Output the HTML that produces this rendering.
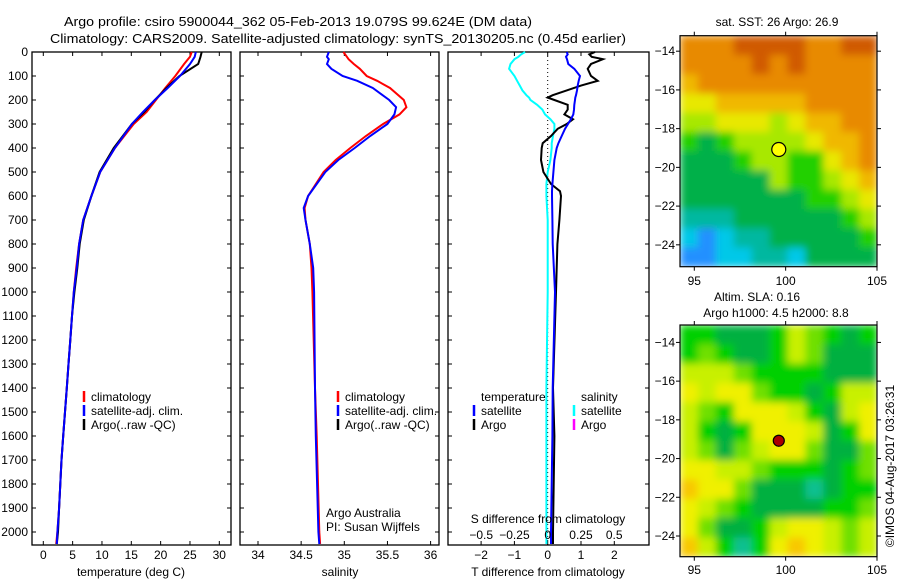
<!DOCTYPE html>
<html><head><meta charset="utf-8"><style>
html,body{margin:0;padding:0;background:#fff;}
svg{display:block;font-family:"Liberation Sans",sans-serif;}
</style></head><body>
<svg id="fig" width="900" height="580" viewBox="0 0 900 580">
<defs>
<filter id="blur" x="0" y="0" width="1" height="1"><feGaussianBlur stdDeviation="4" edgeMode="duplicate"/></filter>
<clipPath id="clipTop"><rect x="680" y="35.7" width="197" height="231"/></clipPath>
<clipPath id="clipBot"><rect x="680" y="325" width="197" height="231.7"/></clipPath>
</defs>
<text x="64" y="26" font-size="13" textLength="468" lengthAdjust="spacingAndGlyphs">Argo profile: csiro 5900044_362 05-Feb-2013 19.079S 99.624E (DM data)</text>
<text x="50" y="43" font-size="13" textLength="576" lengthAdjust="spacingAndGlyphs">Climatology: CARS2009. Satellite-adjusted climatology: synTS_20130205.nc (0.45d earlier)</text>
</svg>
<script>
// ---- data ----
const depthTicks=[0,100,200,300,400,500,600,700,800,900,1000,1100,1200,1300,1400,1500,1600,1700,1800,1900,2000];
const tDepth=[0,20,50,100,150,200,250,300,400,500,600,700,800,900,1000,1100,1200,1300,1400,1500,1600,1700,1800,1900,2000,2050];
const tClim=[25.3,25.0,24.0,22.5,20.8,19.2,17.6,15.4,12.2,9.7,8.2,6.8,6.1,5.6,5.2,4.9,4.6,4.3,4.0,3.7,3.4,3.1,2.9,2.7,2.4,2.2];
const tSat=[26.0,25.8,25.0,23.3,21.2,19.0,17.0,15.1,12.2,9.7,8.2,6.8,6.1,5.7,5.2,4.9,4.6,4.3,4.0,3.7,3.4,3.1,2.9,2.7,2.4,2.3];
const tArgo=[27.0,26.8,26.4,23.2,21.0,19.0,17.2,15.1,12.0,9.6,8.2,6.9,6.2,5.8,5.3,4.9,4.6,4.3,4.0,3.7,3.4,3.1,2.9,2.7,2.5,2.3];
const tTicks=[0,5,10,15,20,25,30];
const sDepth=[0,20,30,50,70,100,120,150,200,230,260,300,350,400,450,500,600,650,700,800,900,1000,1400,1600,2000,2050];
const sClim=[34.99,35.03,35.05,35.11,35.18,35.26,35.38,35.53,35.69,35.72,35.64,35.45,35.25,35.07,34.90,34.76,34.58,34.54,34.55,34.60,34.62,34.63,34.66,34.68,34.71,34.72];
const sSat=[34.82,34.80,34.82,34.80,34.85,34.98,35.15,35.33,35.52,35.60,35.58,35.50,35.30,35.12,34.93,34.78,34.58,34.53,34.55,34.60,34.64,34.65,34.66,34.67,34.70,34.71];
const sTicks=[34,34.5,35,35.5,36];
const dDepth=[0,10,20,30,50,70,100,120,140,160,180,190,200,220,240,260,280,300,320,350,380,400,450,500,550,580,600,700,800,1000,1400,1600,2000,2050];
const dTSat=[0.57,0.60,0.55,0.58,0.62,0.80,0.97,0.93,0.90,0.88,0.85,0.83,0.82,0.80,0.79,0.77,0.70,0.61,0.52,0.42,0.32,0.27,0.20,0.17,0.14,0.13,0.13,0.14,0.15,0.22,0.15,0.14,0.10,0.10];
const dTArgo=[1.42,1.25,1.32,1.66,1.30,1.20,1.30,1.50,1.00,0.57,0.15,0.00,0.20,0.60,0.60,0.50,0.76,0.57,0.30,0.10,-0.15,-0.18,-0.20,-0.13,0.10,0.37,0.40,0.35,0.29,0.25,0.16,0.20,0.16,0.16];
const dSSat=[-0.17,-0.20,-0.22,-0.25,-0.28,-0.29,-0.25,-0.23,-0.21,-0.19,-0.16,-0.14,-0.13,-0.08,-0.04,-0.02,0.02,0.05,0.05,0.04,0.03,0.03,0.02,0.00,-0.01,-0.01,-0.01,0.00,0.00,0.00,-0.01,-0.01,-0.01,-0.01];
const dTTicks=[-2,-1,0,1,2];
const dSTicks=[-0.5,-0.25,0,0.25,0.5];
const mapLonTicks=[95,100,105];
const mapLatTicks=[-14,-16,-18,-20,-22,-24];
const sstGrid=[
[8,8,8,9,9,9,9,8,8,9,9],
[8,8,8,8,9,8,9,8,8,8,8],
[7,8,8,8,8,8,8,8,8,8,8],
[6,6,7,7,7,7,7,8,8,8,8],
[5,5,6,6,6,5,6,7,7,8,8],
[4,3,4,5,5,5,5,6,7,7,8],
[3,3,3,4,5,5,4,4,6,7,8],
[3,3,3,3,3,5,4,4,5,6,7],
[3,3,3,3,3,3,3,4,4,5,6],
[2,2,2,3,3,3,3,3,3,4,5],
[1,0,1,2,2,3,3,3,3,3,4],
[0,0,1,1,2,2,1,3,3,3,3]];
const slaGrid=[
[2,2,1,1,1,2,4,3,2,1,2],
[2,3,2,1,1,2,4,3,1,1,1],
[4,4,4,3,2,2,2,2,1,1,1],
[5,4,5,5,3,2,2,1,2,4,4],
[4,3,2,5,5,5,4,2,1,4,5],
[4,2,1,2,5,5,5,4,1,2,5],
[4,3,1,3,4,5,5,3,1,1,3],
[5,5,4,4,3,2,2,2,1,2,3],
[6,5,5,3,1,1,1,0,1,2,2],
[5,4,3,2,1,1,1,1,2,2,3],
[5,3,1,1,2,4,5,5,4,3,4],
[6,4,2,0,2,5,6,5,4,3,4]];
const argoLon=99.624, argoLat=-19.079;

// ---- helpers ----
const NS="http://www.w3.org/2000/svg";
const fig=document.getElementById('fig');
function mk(tag,attrs,parent){const e=document.createElementNS(NS,tag);for(const k in attrs)e.setAttribute(k,attrs[k]);(parent||fig).appendChild(e);return e;}
function txt(x,y,s,anchor,size,parent){const t=mk('text',{x:x,y:y,'font-size':size||12,'text-anchor':anchor||'start'},parent);t.textContent=s;return t;}
const yD=d=>52+d*0.24;
const PB=545;

function panel(x0,x1,name){
  const r=mk('rect',{x:x0,y:52,width:x1-x0,height:PB-52,fill:'none',stroke:'#000','stroke-width':1.3});
  
  
  depthTicks.forEach(d=>{
    mk('line',{x1:x0,x2:x0+4,y1:yD(d),y2:yD(d),stroke:'#000'});
    mk('line',{x1:x1-4,x2:x1,y1:yD(d),y2:yD(d),stroke:'#000'});
  });
}
function series(xs,ds,xf,color,name){
  const pts=xs.map((v,i)=>xf(v).toFixed(1)+','+yD(ds[i]).toFixed(1)).join(' ');
  const p=mk('polyline',{points:pts,fill:'none',stroke:color,'stroke-width':2});
  
  
}
function xticks(x0,x1,ticks,xf,fmt,labelY){
  ticks.forEach(t=>{
    const x=xf(t);
    mk('line',{x1:x,x2:x,y1:52,y2:56,stroke:'#000'});
    mk('line',{x1:x,x2:x,y1:PB-4,y2:PB,stroke:'#000'});
    const l=txt(x,labelY,fmt(t),'middle',12);
    
    
  });
}

// ---- panel 1: temperature ----
const xT=v=>43.3+v*5.867;
panel(32,231,'temperature-panel');
depthTicks.forEach(d=>{const l=txt(28,yD(d)+4,String(d),'end',12);
  
  });
xticks(32,231,tTicks,xT,String,559);
series(tClim,tDepth,xT,'#ff0000','temp-climatology-line');
series(tArgo,tDepth,xT,'#000000','temp-argo-line');
series(tSat,tDepth,xT,'#0000ff','temp-satellite-line');
let t1=txt(131,576,'temperature (deg C)','middle',12);



function legend(x,y,items,name){
  const g=mk('g',{});
  
  
  items.forEach((it,i)=>{
    mk('line',{x1:x,x2:x,y1:y+i*14-6,y2:y+i*14+5,stroke:it[0],'stroke-width':2.5},g);
    txt(x+7,y+i*14+4,it[1],'start',12,g);
  });
}
legend(84,397,[['#ff0000','climatology'],['#0000ff','satellite-adj. clim.'],['#000','Argo(..raw -QC)']],'temperature-legend');

// ---- panel 2: salinity ----
const xS=v=>258+(v-34)*86.3;
panel(240,439,'salinity-panel');
xticks(240,439,sTicks,xS,String,559);
series(sClim,sDepth,xS,'#ff0000','sal-climatology-line');
series(sSat,sDepth,xS,'#0000ff','sal-satellite-line');
let t2=txt(340,576,'salinity','middle',12);


legend(338,397,[['#ff0000','climatology'],['#0000ff','satellite-adj. clim.'],['#000','Argo(..raw -QC)']],'salinity-legend');
let a1=txt(326,517,'Argo Australia','start',12);


let a2=txt(326,531,'PI: Susan Wijffels','start',12);



// ---- panel 3: differences ----
const xDT=v=>547.7+v*33.3;
const xDS=v=>547.7+v*133;
panel(448,649,'difference-panel');
xticks(448,649,dTTicks,xDT,v=>v<0?'\u2212'+(-v):String(v),559);
mk('line',{x1:xDT(0),x2:xDT(0),y1:52,y2:PB,stroke:'#000','stroke-dasharray':'1,3'});
series(dSSat,dDepth,xDS,'#00ffff','sal-diff-satellite-line');
series(dTArgo,dDepth,xDT,'#000000','temp-diff-argo-line');
series(dTSat,dDepth,xDT,'#0000ff','temp-diff-satellite-line');
dSTicks.forEach(v=>{const l=txt(xDS(v),539,v<0?'\u2212'+(-v):String(v),'middle',12);
  
  });
let t3=txt(548,523,'S difference from climatology','middle',12);


let t4=txt(548,576,'T difference from climatology','middle',12);


txt(481,401,'temperature','start',12);
txt(581,401,'salinity','start',12);
legend(474,411,[['#0000ff','satellite'],['#000','Argo']],'temp-diff-legend');
legend(574,411,[['#00ffff','satellite'],['#ff00ff','Argo']],'sal-diff-legend');

// ---- maps ----
const sstColors=['#2090ff','#00c8e8','#00b8a0','#00b048','#20d000','#a8e800','#e8e800','#f0b800','#e88a00','#d05a00'];
const slaColors=['#10c090','#00b040','#00d000','#70e000','#c8f000','#f0f000','#f8c800','#f0a000'];
function map(grid,colors,top,bot,latTop,latBot,name,markerFill,xLabY,clipId){
  const x0=680,x1=877;
  const xL=v=>694.3+(v-95)*18.27;
  const yL=v=>top+(latTop-v)*(bot-top)/(latTop-latBot);
  const g=mk('g',{});
  
  
  const clipG=mk('g',{'clip-path':'url(#'+clipId+')'},g);
  const cells=mk('g',{filter:'url(#blur)'},clipG);
  const rows=grid.length, cols=grid[0].length;
  const cw=(x1-x0)/cols, ch=(bot-top)/rows;
  grid.forEach((row,i)=>row.forEach((v,j)=>{
    const c=mk('rect',{x:(x0+j*cw).toFixed(2),y:(top+i*ch).toFixed(2),width:(cw+0.6).toFixed(2),height:(ch+0.6).toFixed(2),fill:colors[v]},cells);
    
    
  }));
  mk('rect',{x:x0,y:top,width:x1-x0,height:bot-top,fill:'none',stroke:'#000','stroke-width':1.2},g);
  mapLonTicks.forEach(v=>{const x=xL(v);
    mk('line',{x1:x,x2:x,y1:top-4,y2:top,stroke:'#000'},g);
    mk('line',{x1:x,x2:x,y1:bot,y2:bot+4,stroke:'#000'},g);
    txt(x,xLabY,String(v),'middle',12,g);});
  mapLatTicks.forEach(v=>{const y=yL(v);
    mk('line',{x1:x0-4,x2:x0,y1:y,y2:y,stroke:'#000'},g);
    mk('line',{x1:x1,x2:x1+4,y1:y,y2:y,stroke:'#000'},g);
    txt(675,y+4,'\u2212'+(-v),'end',12,g);});
  const m=mk('circle',{cx:xL(argoLon),cy:yL(argoLat),r:markerFill==='#ffff00'?7:5.5,fill:markerFill,stroke:'#000','stroke-width':1.2},g);
  
  
}
map(sstGrid,sstColors,35.7,266.7,-13.2,-25.13,'sst-map','#ffff00',285,'clipTop');
map(slaGrid,slaColors,325,556.7,-13.1,-25.07,'sla-map','#aa0000',574,'clipBot');
let m1=txt(777,26,'sat. SST: 26 Argo: 26.9','middle',12);


let m2=txt(757,301,'Altim. SLA: 0.16','middle',12);


let m3=txt(776,317,'Argo h1000: 4.5 h2000: 8.8','middle',12);


let c=txt(0,0,'\u00a9IMOS 04-Aug-2017 03:26:31','middle',12);
c.setAttribute('transform','translate(894,466) rotate(-90)');


</script>
</body></html>
